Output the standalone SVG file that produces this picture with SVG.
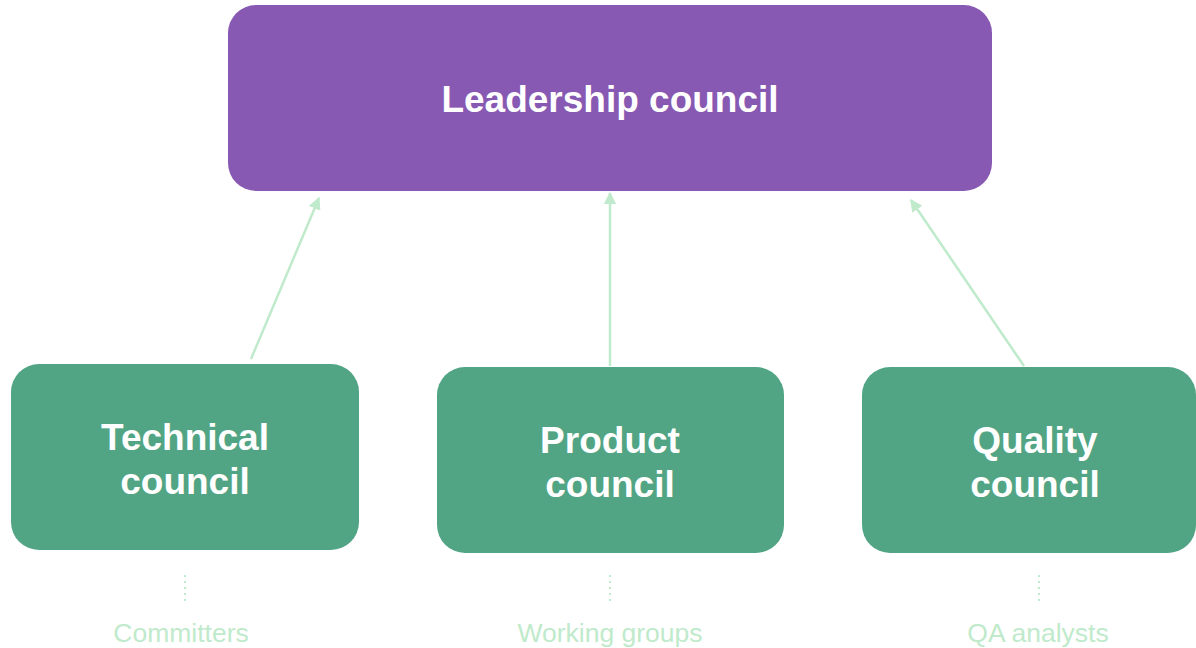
<svg xmlns="http://www.w3.org/2000/svg" width="1196" height="648" viewBox="0 0 1196 648">
<defs>
<style>
.lead{fill:#8759b2}
.council{fill:#52a584}
.title{font-family:"Liberation Sans",Arial,sans-serif;font-weight:bold;fill:#ffffff;text-anchor:middle;font-size:37px}
.sub{font-family:"Liberation Sans",Arial,sans-serif;font-size:26.5px;fill:#bfeacb;text-anchor:middle}
.edge{stroke:#bfeacb;stroke-width:2.5;fill:none;marker-end:url(#arr)}
.dots{stroke:#bfeacb;stroke-width:2;stroke-dasharray:2 4;fill:none}
</style>
<marker id="arr" viewBox="0 0 10 10" refX="9" refY="5" markerWidth="5" markerHeight="5" orient="auto" markerUnits="strokeWidth">
<path d="M0,0 L10,5 L0,10 z" fill="#bfeacb"/>
</marker>
</defs>
<rect width="1196" height="648" fill="#ffffff"/>
<g id="connectors">
<line class="edge" x1="251" y1="359" x2="319" y2="198"/>
<line class="edge" x1="610" y1="366" x2="610" y2="193"/>
<line class="edge" x1="1024" y1="366" x2="911" y2="200"/>
<line class="dots" x1="185" y1="575" x2="185" y2="602"/>
<line class="dots" x1="610" y1="575" x2="610" y2="602"/>
<line class="dots" x1="1039" y1="575" x2="1039" y2="602"/>
</g>
<g id="leadership">
<rect class="lead" x="228" y="5" width="764" height="186" rx="28"/>
<text class="title" x="610" y="112">Leadership council</text>
</g>
<g id="technical">
<rect class="council" x="11" y="364" width="348" height="186" rx="28"/>
<text class="title" x="185" y="450">Technical</text>
<text class="title" x="185" y="494">council</text>
</g>
<g id="product">
<rect class="council" x="437" y="367" width="347" height="186" rx="28"/>
<text class="title" x="610" y="453">Product</text>
<text class="title" x="610" y="497">council</text>
</g>
<g id="quality">
<rect class="council" x="862" y="367" width="334" height="186" rx="28"/>
<text class="title" x="1035" y="453">Quality</text>
<text class="title" x="1035" y="497">council</text>
</g>
<g id="committers"><text class="sub" x="181" y="642">Committers</text></g>
<g id="working-groups"><text class="sub" x="610" y="642">Working groups</text></g>
<g id="qa-analysts"><text class="sub" x="1038" y="642">QA analysts</text></g>
</svg>
